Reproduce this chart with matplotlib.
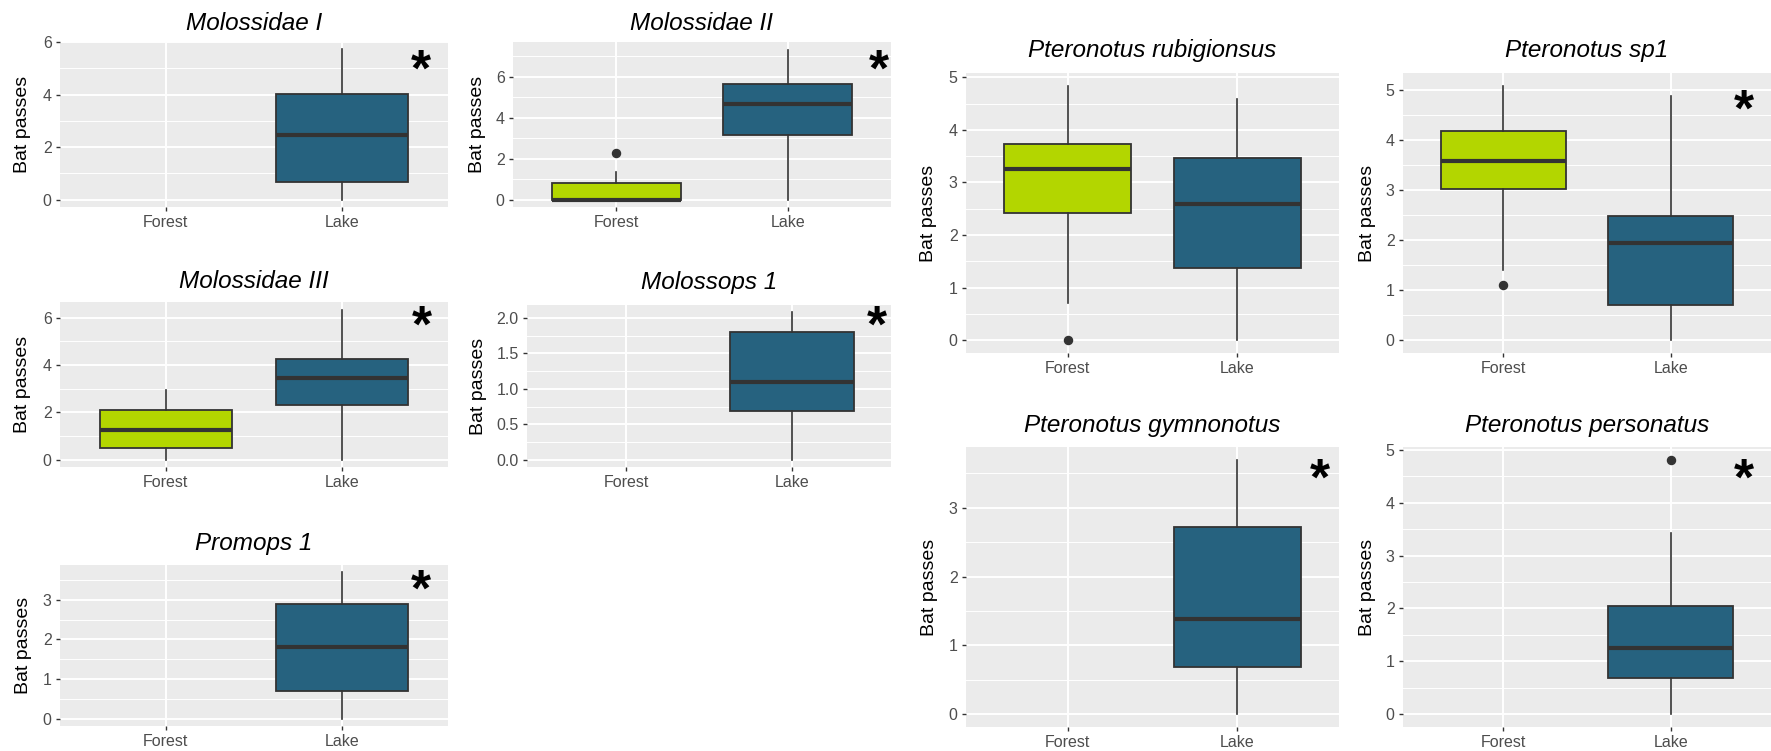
import matplotlib
matplotlib.use("Agg")
import matplotlib.pyplot as plt
import matplotlib.transforms as mtransforms
import numpy as np

# ---------------- data ----------------
species = ["Molossidae I", "Molossidae II", "Molossidae III", "Molossops 1", "Promops 1",
           "Pteronotus rubigionsus", "Pteronotus sp1", "Pteronotus gymnonotus",
           "Pteronotus personatus"]
groups = ["Forest", "Lake"]

forest_q1 = [None, 0.00, 0.50, None, None, 2.42, 3.02, None, None]
forest_med = [None, 0.00, 1.25, None, None, 3.25, 3.58, None, None]
forest_q3 = [None, 0.80, 2.08, None, None, 3.74, 4.17, None, None]
forest_lo = [None, 0.00, 0.00, None, None, 0.70, 1.40, None, None]
forest_hi = [None, 1.35, 2.93, None, None, 4.84, 5.08, None, None]
forest_out = [[], [2.28], [], [], [], [0.0], [1.10], [], []]

lake_q1 = [0.67, 3.15, 2.29, 0.69, 0.69, 1.38, 0.70, 0.69, 0.69]
lake_med = [2.45, 4.68, 3.46, 1.10, 1.80, 2.60, 1.95, 1.39, 1.25]
lake_q3 = [4.02, 5.65, 4.23, 1.80, 2.88, 3.46, 2.49, 2.72, 2.04]
lake_lo = [0.00, 0.00, 0.00, 0.00, 0.00, 0.00, 0.00, 0.00, 0.00]
lake_hi = [5.72, 7.33, 6.34, 2.08, 3.69, 4.58, 4.88, 3.70, 3.42]
lake_out = [[], [], [], [], [], [], [], [], [4.81]]

significant = [True, True, True, True, True, False, True, True, True]
y_ticks = [[0, 2, 4, 6], [0, 2, 4, 6], [0, 2, 4, 6], [0.0, 0.5, 1.0, 1.5, 2.0],
           [0, 1, 2, 3], [0, 1, 2, 3, 4, 5], [0, 1, 2, 3, 4, 5], [0, 1, 2, 3],
           [0, 1, 2, 3, 4, 5]]
y_fmt = ["%d", "%d", "%d", "%.1f", "%d", "%d", "%d", "%d", "%d"]

# ---------------- layout (pixels in a 1771x751 canvas) ----------------
W, H = 1771, 751
panels = [(60, 42, 448, 207), (513, 42, 891, 207), (60, 302, 448, 467),
          (527, 305, 891, 467), (60, 565, 448, 726), (966, 73, 1339, 353),
          (1403, 73, 1771, 353), (966, 447, 1339, 727), (1403, 447, 1771, 727)]
title_base = [30.5, 30.0, 288.5, 288.5, 550, 56.7, 57, 431.7, 431.7]
ylab_x = [21, 476, 21.5, 477, 21.7, 927, 1366, 928, 1366]
star_pos = [(421, 57), (879, 57), (422, 313), (877, 313), (421, 577), None,
            (1744, 97), (1320, 466), (1744, 466)]

GREEN = "#B3D600"
BLUE = "#26627F"
EDGE = "#333333"
BG = "#EBEBEB"

plt.rcParams["font.family"] = ["Liberation Sans", "DejaVu Sans"]

fig = plt.figure(figsize=(W / 100, H / 100), dpi=100)
fig.patch.set_facecolor("white")


def stats(q1, med, q3, lo, hi, out):
    return [dict(q1=q1, med=med, q3=q3, whislo=lo, whishi=hi, fliers=out)]


for i, name in enumerate(species):
    x0, y0, x1, y1 = panels[i]
    ax = fig.add_axes([x0 / W, 1 - y1 / H, (x1 - x0) / W, (y1 - y0) / H])
    ax.set_facecolor(BG)
    for s in ax.spines.values():
        s.set_visible(False)

    boxes = []
    if forest_q1[i] is not None:
        boxes.append((1, stats(forest_q1[i], forest_med[i], forest_q3[i], forest_lo[i],
                               forest_hi[i], forest_out[i]), GREEN))
    boxes.append((2, stats(lake_q1[i], lake_med[i], lake_q3[i], lake_lo[i],
                           lake_hi[i], lake_out[i]), BLUE))

    allv = []
    for pos, st, col in boxes:
        d = st[0]
        allv += [d["whislo"], d["whishi"]] + list(d["fliers"])
        ax.bxp(st, positions=[pos], widths=0.75, patch_artist=True, showcaps=False,
               manage_ticks=False,
               boxprops=dict(facecolor=col, edgecolor=EDGE, linewidth=1.3),
               medianprops=dict(color=EDGE, linewidth=3.0, solid_capstyle="butt"),
               whiskerprops=dict(color=EDGE, linewidth=1.2),
               flierprops=dict(marker="o", markerfacecolor=EDGE, markeredgecolor=EDGE,
                               markersize=5.8))
    lo, hi = min(allv), max(allv)
    pad = 0.05 * (hi - lo)
    ax.set_ylim(lo - pad, hi + pad)
    ax.set_xlim(0.4, 2.6)

    ax.set_xticks([1, 2])
    ax.set_xticklabels(groups)
    major = y_ticks[i]
    step = major[1] - major[0]
    ax.set_yticks(major)
    ax.set_yticklabels([y_fmt[i] % v for v in major])
    minor = np.arange(major[0] - step / 2, hi + pad, step)
    minor = minor[(minor > lo - pad) & (minor < hi + pad)]
    ax.set_yticks(minor, minor=True)

    ax.set_axisbelow(True)
    ax.yaxis.grid(True, which="major", color="white", linewidth=1.4)
    ax.yaxis.grid(True, which="minor", color="white", linewidth=0.7)
    ax.xaxis.grid(True, which="major", color="white", linewidth=1.4)
    ax.tick_params(axis="both", which="major", length=3, width=1.0, color=EDGE,
                   labelcolor="#4D4D4D", labelsize=11.5, pad=3)
    ax.tick_params(axis="y", which="minor", length=0)

    cx = (x0 + x1) / 2
    fig.text(cx / W, 1 - title_base[i] / H, name, ha="center", va="baseline",
             fontsize=17.5, style="italic", color="black")
    fig.text((ylab_x[i] + 1.5) / W, 1 - ((y0 + y1) / 2) / H, "Bat passes", rotation=90,
             ha="center", va="center", fontsize=14, color="black")

    if significant[i] and star_pos[i] is not None:
        sx, sy = star_pos[i]
        fs = 37
        off = mtransforms.offset_copy(fig.transFigure, fig=fig, x=0,
                                      y=-0.553 * fs, units="points")
        fig.text(sx / W, 1 - sy / H, "*", transform=off, ha="center", va="baseline",
                 fontsize=fs, fontweight="bold", color="black")

fig.savefig("out.png", dpi=100, facecolor="white")
